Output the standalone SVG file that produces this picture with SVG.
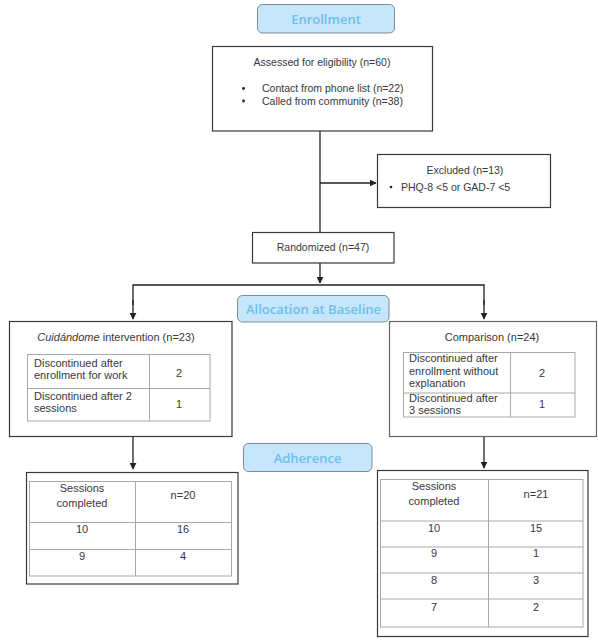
<svg xmlns="http://www.w3.org/2000/svg" width="598" height="641" viewBox="0 0 598 641">
<defs>
<marker id="arr" viewBox="0 0 10 10" refX="9" refY="5" markerWidth="7" markerHeight="7" markerUnits="userSpaceOnUse" orient="auto">
<path d="M0,0 L10,5 L0,10 z" fill="#222"/>
</marker>
<style>
.stage{fill:#c6e6fb;stroke:#7d8b97;stroke-width:1}
.stxt{font-family:"Open Sans","Liberation Sans",sans-serif;font-weight:600;font-size:13px;fill:#6cc0ea;text-anchor:middle}
.box{fill:#fff;stroke:#3a3a3a;stroke-width:1.2}
.boxl{fill:#fff;stroke:#666;stroke-width:1.2}
.tbl{fill:none;stroke:#a8a8a8;stroke-width:1}
.t{font-family:"Liberation Sans",Arial,sans-serif;font-size:10.5px;fill:#383838}
.tt{font-size:11px}
.c{text-anchor:middle}
.conn{fill:none;stroke:#222;stroke-width:1.3}
</style>
</defs>
<rect width="598" height="641" fill="#fff"/>

<g id="connectors">
<line class="conn" x1="320" y1="131" x2="320" y2="232"/>
<line class="conn" x1="320" y1="183" x2="376" y2="183" marker-end="url(#arr)"/>
<line class="conn" x1="320" y1="263" x2="320" y2="283" marker-end="url(#arr)"/>
<polyline class="conn" points="133,305 133,285 484,285 484,305"/>
<line class="conn" x1="133" y1="300" x2="133" y2="319" marker-end="url(#arr)"/>
<line class="conn" x1="484" y1="300" x2="484" y2="319" marker-end="url(#arr)"/>
<line class="conn" x1="133" y1="437" x2="133" y2="469" marker-end="url(#arr)"/>
<line class="conn" x1="484" y1="437" x2="484" y2="468" stroke="#555" marker-end="url(#arr)"/>
</g>

<g id="enrollment">
<rect class="stage" x="257.5" y="4.5" width="137" height="28.5" rx="5"/>
<text class="stxt" x="326" y="23.5">Enrollment</text>
</g>

<g id="assessed">
<rect class="box" x="212.5" y="46.5" width="220" height="84.5"/>
<text class="t c" x="322" y="66">Assessed for eligibility (n=60)</text>
<circle cx="243.5" cy="88.5" r="1.4" fill="#222"/>
<circle cx="243.5" cy="101" r="1.4" fill="#222"/>
<text class="t" x="262" y="92">Contact from phone list (n=22)</text>
<text class="t" x="262" y="104.5">Called from community (n=38)</text>
</g>

<g id="excluded">
<rect class="box" x="377.5" y="154.5" width="173" height="53"/>
<text class="t c" x="465" y="174">Excluded (n=13)</text>
<circle cx="391" cy="187" r="1.3" fill="#222"/>
<text class="t" x="401" y="190.5">PHQ-8 &lt;5 or GAD-7 &lt;5</text>
</g>

<g id="randomized">
<rect class="box" x="252.5" y="232.5" width="141.5" height="30.5"/>
<text class="t c" x="323" y="251">Randomized (n=47)</text>
</g>

<g id="allocation">
<rect class="stage" x="237.5" y="295.5" width="151.5" height="26.5" rx="5"/>
<text class="stxt" x="313.5" y="313.5">Allocation at Baseline</text>
</g>

<g id="intervention">
<rect class="box" x="9.5" y="321.5" width="222.5" height="115"/>
<text class="t tt c" x="116" y="341"><tspan font-style="italic">Cuidándome</tspan> intervention (n=23)</text>
<rect class="tbl" x="27.5" y="354.5" width="182.5" height="66.5"/>
<line class="tbl" x1="149.5" y1="354.5" x2="149.5" y2="421"/>
<line class="tbl" x1="27.5" y1="388.5" x2="210" y2="388.5"/>
<text class="t tt" x="34" y="367">Discontinued after</text>
<text class="t tt" x="34" y="378.5">enrollment for work</text>
<text class="t tt c" x="179" y="377">2</text>
<text class="t tt" x="34" y="400">Discontinued after 2</text>
<text class="t tt" x="34" y="411.5">sessions</text>
<text class="t tt c" x="179" y="408" fill="#2a3a7a">1</text>
</g>

<g id="comparison">
<rect class="boxl" x="389.5" y="321.5" width="207" height="115"/>
<text class="t tt c" x="492" y="341">Comparison (n=24)</text>
<rect class="tbl" x="403.5" y="352.5" width="171.5" height="64.5"/>
<line class="tbl" x1="510.5" y1="352.5" x2="510.5" y2="417"/>
<line class="tbl" x1="403.5" y1="393" x2="575" y2="393"/>
<text class="t tt" x="409" y="362">Discontinued after</text>
<text class="t tt" x="409" y="374.5">enrollment without</text>
<text class="t tt" x="409" y="387">explanation</text>
<text class="t tt c" x="542" y="377">2</text>
<text class="t tt" x="409" y="402">Discontinued after</text>
<text class="t tt" x="409" y="414">3 sessions</text>
<text class="t tt c" x="542" y="408" fill="#2a3a8a">1</text>
</g>

<g id="adherence">
<rect class="stage" x="243.5" y="443.5" width="128.5" height="28" rx="5"/>
<text class="stxt" x="307.5" y="462.5">Adherence</text>
</g>

<g id="adherence-intervention">
<rect class="box" x="26.5" y="472.5" width="211.5" height="111.5"/>
<rect class="tbl" x="29.5" y="481.5" width="202" height="94.5"/>
<line class="tbl" x1="135.5" y1="481.5" x2="135.5" y2="576"/>
<line class="tbl" x1="29.5" y1="522.5" x2="231.5" y2="522.5"/>
<line class="tbl" x1="29.5" y1="549.5" x2="231.5" y2="549.5"/>
<text class="t tt c" x="82" y="492">Sessions</text>
<text class="t tt c" x="82" y="507">completed</text>
<text class="t tt c" x="183" y="498.5">n=20</text>
<text class="t tt c" x="82" y="532.5">10</text>
<text class="t tt c" x="183" y="532.5">16</text>
<text class="t tt c" x="82" y="559.5">9</text>
<text class="t tt c" x="183" y="559.5" fill="#4a3a7a">4</text>
</g>

<g id="adherence-comparison">
<rect class="box" x="377.5" y="470.5" width="210.5" height="166"/>
<rect class="tbl" x="380.5" y="479.5" width="202.5" height="147.5"/>
<line class="tbl" x1="488.5" y1="479.5" x2="488.5" y2="627"/>
<line class="tbl" x1="380.5" y1="521" x2="583" y2="521"/>
<line class="tbl" x1="380.5" y1="547" x2="583" y2="547"/>
<line class="tbl" x1="380.5" y1="573" x2="583" y2="573"/>
<line class="tbl" x1="380.5" y1="599" x2="583" y2="599"/>
<text class="t tt c" x="434" y="490">Sessions</text>
<text class="t tt c" x="434" y="505">completed</text>
<text class="t tt c" x="536" y="497.5">n=21</text>
<text class="t tt c" x="434" y="531.5">10</text>
<text class="t tt c" x="536" y="531.5">15</text>
<text class="t tt c" x="434" y="556.5">9</text>
<text class="t tt c" x="536" y="556.5">1</text>
<text class="t tt c" x="434" y="583.5">8</text>
<text class="t tt c" x="536" y="583.5">3</text>
<text class="t tt c" x="434" y="610.5">7</text>
<text class="t tt c" x="536" y="610.5">2</text>
</g>
</svg>
